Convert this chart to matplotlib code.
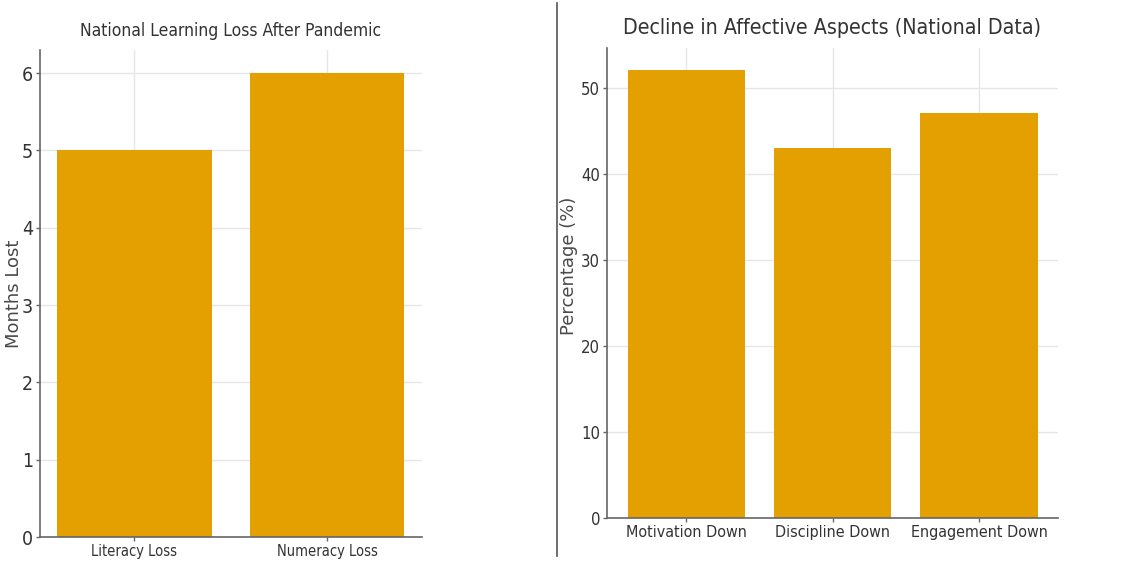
import matplotlib
matplotlib.use("Agg")
import matplotlib.pyplot as plt
from matplotlib.lines import Line2D

left_categories = ["Literacy Loss", "Numeracy Loss"]
left_values = [5, 6]
right_categories = ["Motivation Down", "Discipline Down", "Engagement Down"]
right_values = [52, 43, 47]

left_title = "National Learning Loss After Pandemic"
right_title = "Decline in Affective Aspects (National Data)"
left_ylabel = "Months Lost"
right_ylabel = "Percentage (%)"

bar_color = "#E3A000"
grid_color = "#e6e6e6"
spine_color = "#666666"
text_color = "#333333"
label_color = "#4a4a4a"

plt.rcParams["font.family"] = ["DejaVu Sans"]

fig = plt.figure(figsize=(11.22, 5.67), dpi=100)
ax1 = fig.add_axes([0.0357, 0.0529, 0.340, 0.859])
ax2 = fig.add_axes([0.541, 0.0864, 0.402, 0.829])

def style(ax, cats, vals, title, ylabel, tsize, xsize, ysize_ticks, ysize, lab_xy):
    ax.set_axisbelow(True)
    ax.bar(range(len(cats)), vals, width=0.8, color=bar_color, zorder=2)
    ax.set_xticks(range(len(cats)))
    ax.set_xticklabels(cats, fontsize=xsize, color=text_color, fontstretch="condensed")
    for lab in ax.get_yticklabels():
        lab.set_fontsize(ysize_ticks)
        lab.set_color(text_color)
        lab.set_fontstretch("condensed")
    ax.grid(True, color=grid_color, linewidth=1.0, zorder=0)
    for s in ["top", "right"]:
        ax.spines[s].set_visible(False)
    for s in ["left", "bottom"]:
        ax.spines[s].set_color(spine_color)
        ax.spines[s].set_linewidth(1.2)
    ax.tick_params(axis="both", length=3, width=1, color=spine_color, pad=2)
    ax.set_title(title, fontsize=tsize, color=text_color, fontstretch="condensed", pad=10)
    ax.set_ylabel(ylabel, fontsize=ysize, color=label_color)
    ax.yaxis.set_label_coords(*lab_xy)

ax1.set_ylim(0, max(left_values) * 1.05)
ax2.set_ylim(0, max(right_values) * 1.05)
style(ax1, left_categories, left_values, left_title, left_ylabel, 12.5, 10.5, 14, 13, (-0.045, 0.5))
style(ax2, right_categories, right_values, right_title, right_ylabel, 15.3, 11.5, 12, 13, (-0.064, 0.537))

fig.add_artist(Line2D([0.4964, 0.4964], [0.02, 0.995], transform=fig.transFigure,
                      color="#555555", linewidth=1.2))

fig.savefig("out.png", dpi=100)
